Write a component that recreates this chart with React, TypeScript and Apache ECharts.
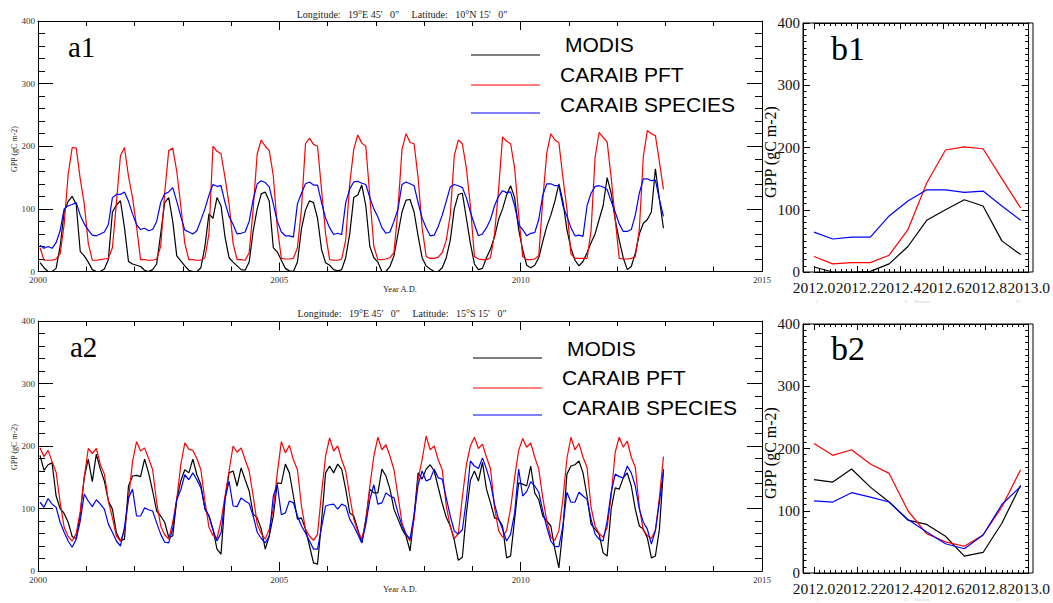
import React, { useEffect, useRef } from "react";
import * as echarts from "echarts";

// ---------------- DATA ----------------
// Monthly GPP (gC m-2), Jan 2000 .. Dec 2012, one row per year
const a1Modis = [
  14, 6, 0, 0, 5, 40, 95, 112, 120, 107, 32, 25,
  15, 3, 0, 0, 4, 19, 95, 106, 113, 70, 16, 12,
  10, 8, 2, 0, 3, 12, 60, 110, 118, 80, 25, 17,
  9, 2, 0, 0, 6, 40, 92, 85, 118, 105, 55, 22,
  15, 9, 3, 2, 15, 65, 100, 124, 127, 112, 38, 31,
  18, 5, 1, 0, 15, 68, 98, 113, 110, 85, 35, 14,
  10, 3, 1, 3, 22, 60, 118, 122, 138, 105, 40, 22,
  15, 0, 0, 8, 25, 60, 95, 114, 115, 95, 57, 22,
  9, 4, 0, 0, 6, 22, 50, 100, 123, 125, 85, 45,
  12, 3, 5, 22, 36, 55, 83, 100, 122, 137, 118, 67,
  35, 10, 6, 10, 22, 48, 72, 90, 112, 140, 112, 67,
  37, 18, 9, 16, 30, 46, 60, 83, 105, 150, 125, 83,
  50, 22, 3, 8, 29, 60, 77, 83, 95, 164, 115, 69,
];
const a1Pft = [
  38, 18, 18, 18, 20, 28, 75, 155, 198, 197, 148, 108,
  45, 18, 18, 19, 20, 21, 38, 110, 185, 198, 152, 118,
  72, 19, 19, 18, 18, 20, 40, 125, 193, 197, 160, 105,
  45, 19, 19, 18, 18, 22, 60, 200, 192, 188, 150, 108,
  45, 19, 19, 18, 30, 100, 188, 210, 200, 193, 153, 70,
  21, 20, 20, 21, 38, 100, 204, 213, 203, 200, 130, 60,
  19, 18, 18, 20, 50, 140, 195, 218, 205, 200, 120, 40,
  19, 19, 20, 22, 30, 100, 195, 220, 206, 204, 150, 70,
  24, 21, 21, 23, 30, 50, 90, 185, 210, 204, 165, 105,
  24, 20, 19, 19, 22, 60, 130, 215, 208, 204, 165, 90,
  24, 19, 19, 20, 25, 115, 190, 220, 210, 206, 150, 100,
  28, 21, 21, 21, 21, 65, 182, 222, 214, 207, 150, 84,
  21, 20, 20, 21, 24, 67, 184, 225, 220, 217, 175, 131,
];
const a1Species = [
  42, 37, 40, 37, 46, 65, 100, 105, 107, 110, 90, 76,
  66, 58, 57, 60, 63, 75, 118, 123, 123, 127, 112, 92,
  75, 67, 69, 65, 67, 80, 110, 124, 127, 134, 112, 88,
  66, 63, 60, 65, 82, 100, 122, 139, 136, 137, 110, 88,
  75, 60, 61, 63, 80, 115, 140, 145, 142, 135, 108, 80,
  63, 57, 57, 55, 108, 125, 140, 143, 138, 138, 110, 85,
  70, 59, 61, 59, 110, 132, 143, 144, 141, 139, 118, 100,
  87, 70, 61, 63, 80, 100, 139, 143, 140, 137, 110, 85,
  70, 57, 58, 72, 90, 112, 135, 139, 137, 134, 118, 95,
  75, 57, 60, 70, 83, 105, 120, 129, 126, 127, 105, 75,
  67, 57, 61, 62, 83, 122, 140, 140, 137, 137, 105, 88,
  70, 57, 58, 56, 105, 125, 136, 137, 135, 131, 112, 95,
  76, 64, 64, 67, 90, 125, 148, 148, 145, 146, 115, 88,
];
const a2Modis = [
  185, 161, 170, 173, 120, 100, 92, 78, 55, 52, 90, 150,
  179, 143, 187, 163, 144, 112, 99, 61, 48, 51, 136, 152,
  153, 151, 179, 157, 128, 96, 88, 78, 54, 56, 115, 144,
  162, 157, 179, 154, 138, 99, 88, 67, 35, 27, 115, 157,
  160, 136, 165, 146, 128, 91, 85, 67, 35, 56, 88, 141,
  140, 171, 157, 120, 83, 85, 67, 40, 13, 11, 80, 157,
  168, 157, 171, 163, 131, 93, 88, 67, 45, 83, 131, 125,
  125, 163, 152, 131, 99, 83, 67, 56, 32, 88, 157, 147,
  163, 170, 160, 134, 108, 86, 72, 49, 17, 22, 92, 145,
  160, 144, 174, 131, 109, 85, 83, 72, 21, 24, 83, 141,
  139, 136, 168, 125, 114, 88, 80, 72, 35, 5, 67, 155,
  168, 170, 176, 157, 120, 75, 67, 59, 29, 24, 99, 133,
  131, 149, 157, 136, 99, 72, 67, 53, 21, 24, 67, 163,
];
const a2Pft = [
  197, 183, 193, 175, 158, 110, 70, 55, 48, 60, 95, 150,
  196, 188, 196, 170, 155, 112, 85, 56, 48, 65, 115, 175,
  207, 192, 197, 180, 162, 110, 72, 58, 51, 78, 115, 170,
  205, 195, 193, 180, 162, 112, 70, 57, 52, 80, 120, 160,
  200, 190, 197, 178, 160, 120, 75, 60, 51, 67, 100, 157,
  207, 189, 201, 178, 162, 104, 67, 56, 49, 59, 125, 184,
  213, 192, 200, 178, 160, 120, 83, 64, 51, 77, 136, 184,
  214, 194, 202, 184, 162, 120, 77, 59, 48, 83, 147, 178,
  216, 194, 200, 178, 162, 104, 71, 52, 60, 118, 170, 200,
  214, 196, 203, 182, 164, 102, 65, 54, 65, 100, 150, 193,
  212, 198, 205, 182, 163, 117, 80, 54, 49, 65, 115, 180,
  214, 194, 204, 182, 166, 102, 72, 60, 54, 70, 120, 190,
  214, 198, 208, 182, 166, 102, 65, 57, 52, 65, 118, 183,
];
const a2Species = [
  110, 102, 116, 107, 102, 78, 62, 48, 38, 51, 80, 123,
  112, 103, 114, 107, 99, 75, 62, 48, 40, 70, 117, 131,
  88, 88, 101, 98, 96, 77, 59, 46, 45, 68, 114, 130,
  154, 146, 157, 146, 133, 101, 88, 66, 48, 61, 115, 144,
  104, 103, 117, 112, 108, 88, 62, 52, 45, 56, 120, 138,
  90, 93, 112, 109, 88, 72, 61, 48, 35, 35, 70, 104,
  106, 107, 99, 107, 104, 83, 72, 59, 45, 75, 114, 138,
  107, 109, 125, 120, 117, 93, 72, 59, 51, 90, 138, 160,
  144, 147, 163, 149, 147, 117, 88, 64, 59, 66, 114, 176,
  168, 164, 181, 163, 141, 107, 83, 67, 48, 59, 93, 163,
  120, 127, 143, 136, 126, 96, 70, 48, 39, 39, 72, 126,
  110, 110, 126, 120, 115, 83, 59, 51, 48, 80, 126, 155,
  151, 149, 168, 157, 136, 99, 78, 67, 43, 65, 110, 160,
];

// Seasonal panels (12 months of 2012)
const bMonths = [1, 2, 3, 4, 5, 6, 7, 8, 9, 10, 11, 12];
const b1Modis = [8, 0, 0, 1, 13, 41, 83, 100, 116, 106, 50, 28];
const b1Pft = [25, 13, 15, 15, 27, 68, 143, 196, 201, 198, 150, 103];
const b1Species = [64, 53, 56, 56, 90, 114, 132, 132, 128, 130, 106, 83];
const b2Modis = [150, 146, 167, 138, 114, 85, 78, 59, 27, 33, 80, 141];
const b2Pft = [208, 189, 198, 175, 160, 100, 63, 50, 43, 61, 106, 166];
const b2Species = [116, 114, 129, 122, 114, 86, 66, 47, 39, 61, 110, 139];

// Tick labels
const aXTickLabels = ["2000", "2005", "2010", "2015"];
const bXTickLabels = ["2012.0", "2012.2", "2012.4", "2012.6", "2012.8", "2013.0"];
const yTickLabels = ["0", "100", "200", "300", "400"];
const seriesNames = ["MODIS", "CARAIB PFT", "CARAIB SPECIES"];
const seriesColors = ["#000000", "#ff0000", "#0000ff"];

// ---------------- BUILD ----------------
const serif = "'Liberation Serif', 'DejaVu Serif', serif";
const sans = "'Liberation Sans', Arial, sans-serif";

const aPairs = (vals: number[]) => vals.map((v, k) => [2000 + (k + 0.5) / 12, v]);
const bPairs = (vals: number[]) => vals.map((v, i) => [2012 + (bMonths[i] - 1) * 0.0875, v]);

const tickStyle = { color: "#000", width: 1 };

function aXAxis(grid: number, pos: "bottom" | "top") {
  return {
    gridIndex: grid, type: "value", position: pos, min: 2000, max: 2015, interval: 5,
    axisLine: { show: true, onZero: false, lineStyle: tickStyle },
    axisTick: { show: true, inside: true, length: 9, lineStyle: tickStyle },
    minorTick: { show: true, splitNumber: 5, length: 5, lineStyle: tickStyle },
    splitLine: { show: false }, minorSplitLine: { show: false },
    axisLabel: pos === "bottom"
      ? { show: true, fontSize: 9, fontFamily: serif, color: "#333", margin: 4,
          formatter: (v: number) => aXTickLabels[Math.round((v - 2000) / 5)] ?? "" }
      : { show: false },
  };
}
function aYAxis(grid: number, pos: "left" | "right") {
  return {
    gridIndex: grid, type: "value", position: pos, min: 0, max: 400, interval: 100,
    axisLine: { show: true, onZero: false, lineStyle: tickStyle },
    axisTick: { show: true, inside: true, length: 15, lineStyle: tickStyle },
    minorTick: { show: true, splitNumber: 5, length: 7, lineStyle: tickStyle },
    splitLine: { show: false }, minorSplitLine: { show: false },
    axisLabel: pos === "left"
      ? { show: true, fontSize: 9, fontFamily: serif, color: "#333", margin: 3,
          formatter: (v: number) => yTickLabels[Math.round(v / 100)] ?? "" }
      : { show: false },
  };
}
function bXAxis(grid: number, pos: "bottom" | "top", margin: number) {
  return {
    gridIndex: grid, type: "value", position: pos, min: 2012, max: 2013, interval: 0.2,
    axisLine: { show: true, onZero: false, lineStyle: tickStyle },
    axisTick: { show: true, inside: true, length: 6, lineStyle: tickStyle },
    minorTick: { show: true, splitNumber: 8, length: 3, lineStyle: tickStyle },
    splitLine: { show: false }, minorSplitLine: { show: false },
    axisLabel: pos === "bottom"
      ? { show: true, fontSize: 15.5, fontFamily: serif, color: "#111", margin,
          showMinLabel: true, showMaxLabel: true, hideOverlap: false,
          formatter: (v: number) => bXTickLabels[Math.round((v - 2012) / 0.2)] ?? "" }
      : { show: false },
  };
}
function bYAxis(grid: number, pos: "left" | "right") {
  return {
    gridIndex: grid, type: "value", position: pos, min: 0, max: 400, interval: 100,
    offset: pos === "left" ? 11 : 0,
    axisLine: { show: true, onZero: false, lineStyle: tickStyle },
    axisTick: { show: true, inside: true, length: 7, lineStyle: tickStyle },
    minorTick: { show: true, splitNumber: 10, length: 3.5, lineStyle: tickStyle },
    splitLine: { show: false }, minorSplitLine: { show: false },
    axisLabel: pos === "left"
      ? { show: true, fontSize: 15, fontFamily: serif, color: "#111", margin: 3,
          formatter: (v: number) => yTickLabels[Math.round(v / 100)] ?? "" }
      : { show: false },
  };
}

function lineSeries(data: number[][], color: string, name: string, xi: number, yi: number) {
  return {
    type: "line", name, data, xAxisIndex: xi, yAxisIndex: yi,
    showSymbol: false, symbol: "none", clip: true,
    lineStyle: { color, width: 1.2 }, itemStyle: { color },
    emphasis: { disabled: true }, silent: true,
  };
}

function txt(text: string, x: number, y: number, size: number, family: string, opts: any = {}) {
  return {
    type: "text", x, y, rotation: opts.rotation ?? 0, silent: true,
    style: {
      text, fontSize: size, fontFamily: family, fill: opts.fill ?? "#000",
      align: opts.align ?? "left", verticalAlign: opts.valign ?? "middle",
      textAlign: opts.align ?? "left", textVerticalAlign: opts.valign ?? "middle",
    },
  };
}
function seg(x1: number, y1: number, x2: number, y2: number, color: string) {
  return { type: "line", silent: true, shape: { x1, y1, x2, y2 }, style: { stroke: color, lineWidth: 1.2 } };
}

function legend(lineYs: number[], textYs: number[], lineX1: number, lineX2: number, textXs: number[]) {
  const out: any[] = [];
  seriesNames.forEach((n, i) => {
    out.push(seg(lineX1, lineYs[i], lineX2, lineYs[i], seriesColors[i]));
    out.push(txt(n, textXs[i], textYs[i], 21, sans));
  });
  return out;
}

const ghostFill = "#cfcfcf";
const ghost = (y: number) => [
  txt("1", 817, y, 5, serif, { fill: ghostFill, align: "center" }),
  txt("6", 906, y, 5, serif, { fill: ghostFill, align: "center" }),
  txt("Months", 922, y, 5, serif, { fill: ghostFill, align: "center" }),
  txt("12", 1018, y, 5, serif, { fill: ghostFill, align: "center" }),
];

const option: any = {
  animation: false,
  backgroundColor: "#ffffff",
  grid: [
    { left: 38, top: 21, width: 724, height: 250.5, show: false },
    { left: 38, top: 321, width: 724, height: 250, show: false },
    { left: 814, top: 23, width: 219, height: 249, show: false },
    { left: 814, top: 324, width: 219, height: 249, show: false },
  ],
  xAxis: [
    aXAxis(0, "bottom"), aXAxis(0, "top"),
    aXAxis(1, "bottom"), aXAxis(1, "top"),
    bXAxis(2, "bottom", 7), bXAxis(2, "top", 7),
    bXAxis(3, "bottom", 7), bXAxis(3, "top", 7),
  ],
  yAxis: [
    aYAxis(0, "left"), aYAxis(0, "right"),
    aYAxis(1, "left"), aYAxis(1, "right"),
    bYAxis(2, "left"), bYAxis(2, "right"),
    bYAxis(3, "left"), bYAxis(3, "right"),
  ],
  series: [
    lineSeries(aPairs(a1Modis), seriesColors[0], "a1 MODIS", 0, 0),
    lineSeries(aPairs(a1Pft), seriesColors[1], "a1 PFT", 0, 0),
    lineSeries(aPairs(a1Species), seriesColors[2], "a1 SPECIES", 0, 0),
    lineSeries(aPairs(a2Modis), seriesColors[0], "a2 MODIS", 2, 2),
    lineSeries(aPairs(a2Pft), seriesColors[1], "a2 PFT", 2, 2),
    lineSeries(aPairs(a2Species), seriesColors[2], "a2 SPECIES", 2, 2),
    lineSeries(bPairs(b1Modis), seriesColors[0], "b1 MODIS", 4, 4),
    lineSeries(bPairs(b1Pft), seriesColors[1], "b1 PFT", 4, 4),
    lineSeries(bPairs(b1Species), seriesColors[2], "b1 SPECIES", 4, 4),
    lineSeries(bPairs(b2Modis), seriesColors[0], "b2 MODIS", 6, 6),
    lineSeries(bPairs(b2Pft), seriesColors[1], "b2 PFT", 6, 6),
    lineSeries(bPairs(b2Species), seriesColors[2], "b2 SPECIES", 6, 6),
  ],
  graphic: [
    // frames for the b panels (left side extends past the first tick)
    { type: "rect", silent: true, shape: { x: 803, y: 23, width: 230, height: 249 }, style: { fill: "none", stroke: "#000", lineWidth: 1 } },
    { type: "rect", silent: true, shape: { x: 803, y: 324, width: 230, height: 249 }, style: { fill: "none", stroke: "#000", lineWidth: 1 } },
    // headers
    txt("Longitude:   19\u00B0E 45'   0\"     Latitude:   10\u00B0N 15'   0\"", 402, 14, 10, serif, { align: "center", fill: "#222" }),
    txt("Longitude:   19\u00B0E 45'   0\"     Latitude:   15\u00B0S 15'   0\"", 402, 313, 10, serif, { align: "center", fill: "#222" }),
    txt("Year A.D.", 400, 289, 8.5, serif, { align: "center", fill: "#222" }),
    txt("Year A.D.", 400, 589, 8.5, serif, { align: "center", fill: "#222" }),
    txt("GPP (gC m-2)", 14, 149, 8, serif, { align: "center", rotation: Math.PI / 2, fill: "#222" }),
    txt("GPP (gC m-2)", 14, 447, 8, serif, { align: "center", rotation: Math.PI / 2, fill: "#222" }),
    txt("GPP (gC m-2)", 770, 152, 16, serif, { align: "center", rotation: Math.PI / 2 }),
    txt("GPP (gC m-2)", 770, 453, 16, serif, { align: "center", rotation: Math.PI / 2 }),
    // panel labels
    txt("a1", 68, 47, 29, serif),
    txt("a2", 70, 347, 29, serif),
    txt("b1", 831, 48, 34, serif),
    txt("b2", 831, 348, 34, serif),
    // legends
    ...legend([55, 85, 113], [44, 74, 104], 471, 540, [565, 560, 560]),
    ...legend([358, 388, 415], [348, 377, 407], 473, 542, [567, 562, 562]),
    // faint ghost month labels
    ...ghost(301),
    ...ghost(599.5),
  ],
};

export default function App() {
  const ref = useRef<HTMLDivElement>(null);
  useEffect(() => {
    if (!ref.current) return;
    const chart = echarts.init(ref.current, null, { renderer: "svg" });
    chart.setOption(option);
    return () => chart.dispose();
  }, []);
  return (
    <div
      ref={ref}
      style={{ position: "fixed", left: 0, top: 0, width: 1053, height: 603, background: "#fff" }}
    />
  );
}
